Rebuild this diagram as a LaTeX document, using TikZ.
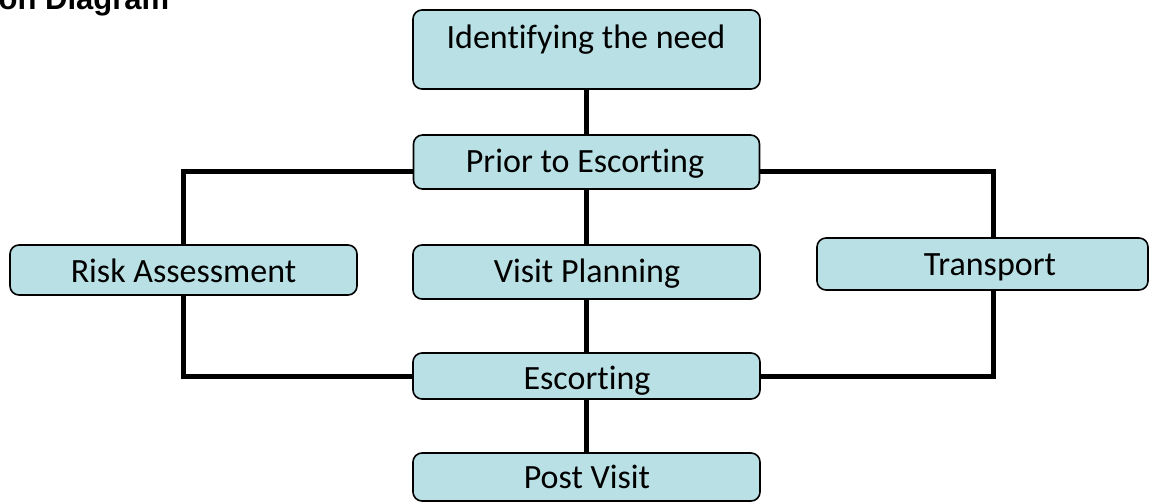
\documentclass[tikz,border=0pt]{standalone}
\usepackage{fontspec}
\setmainfont[Ligatures={NoCommon,NoContextual},RawFeature={-liga;-clig;-calt}]{Carlito}
\newfontfamily\titlefont{Liberation Sans}
\usetikzlibrary{backgrounds}
\definecolor{boxfill}{RGB}{185,224,228}
\begin{document}
\begin{tikzpicture}[x=1pt,y=-1pt,
  box/.style={draw=black, line width=1.6pt, fill=boxfill, rounded corners=9pt, inner sep=0pt},
  lbl/.style={inner sep=0pt, text height=22pt, text depth=0pt, font=\fontsize{34}{40}\selectfont},
  link/.style={draw=black, line width=5pt}]
\useasboundingbox (0,0) rectangle (1156,502);
\clip (0,0) rectangle (1156,502);
% title (cut off at top)
\node[anchor=base west, inner sep=0pt, font=\titlefont\bfseries\fontsize{31}{31}\selectfont] (title) at (-1.5,10) {on Diagram};
% boxes
\node[box, minimum width=347pt, minimum height=79pt] (need) at (586.5,49.5) {};
\node[box, minimum width=346pt, minimum height=54pt] (prior) at (586.5,162) {};
\node[box, minimum width=347pt, minimum height=54pt] (visit) at (586.5,272) {};
\node[box, minimum width=347pt, minimum height=50pt] (risk) at (183.5,270) {};
\node[box, minimum width=331pt, minimum height=52pt] (trans) at (982.5,264) {};
\node[box, minimum width=347pt, minimum height=46pt] (esc) at (586.5,376) {};
\node[box, minimum width=347pt, minimum height=48pt] (post) at (586.5,477) {};
% labels
\node[lbl] (tneed) at (586,38) {Identifying the need};
\node[lbl] (tprior) at (585,162) {Prior to Escorting};
\node[lbl] (tvisit) at (587,272) {Visit Planning};
\node[lbl] (trisk) at (183.5,272) {Risk Assessment};
\node[lbl] (ttrans) at (990,265) {Transport};
\node[lbl] (tesc) at (587,378) {Escorting};
\node[lbl] (tpost) at (587,477) {Post Visit};
% connectors
\begin{scope}[on background layer]
\draw[link] (need.south) -- (prior.north);
\draw[link] (prior.south) -- (visit.north);
\draw[link] (visit.south) -- (esc.north);
\draw[link] (esc.south) -- (post.north);
\draw[link] ([yshift=-10pt]prior.west) -| (risk.north);
\draw[link] (risk.south) |- (esc.west);
\draw[link] ([yshift=-10pt]prior.east) -| ([xshift=10.5pt]trans.north);
\draw[link] ([xshift=10.5pt]trans.south) |- (esc.east);
\end{scope}
\end{tikzpicture}
\end{document}
